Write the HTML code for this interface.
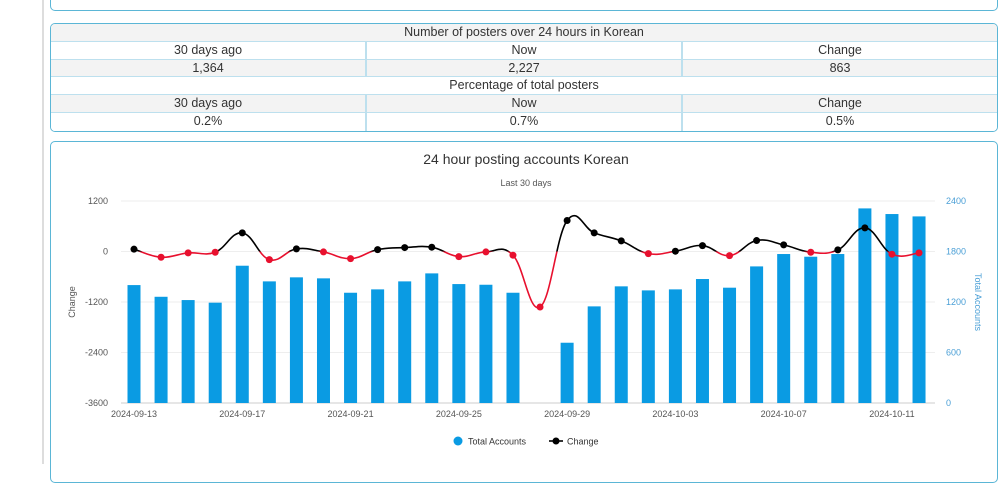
<!DOCTYPE html>
<html><head><meta charset="utf-8"><style>
body{margin:0;width:1000px;height:464px;background:#fff;overflow:hidden;font-family:"Liberation Sans",sans-serif;position:relative}
.vline{position:absolute;left:42px;top:0;width:2px;height:464px;background:#ddd}
.topcard{position:absolute;left:50px;top:-10px;width:946px;height:19px;border:1px solid #5bb6d6;border-radius:5px;background:#fff}
.tbl{position:absolute;left:50px;top:23px;width:946px;height:107px;border:1px solid #5bb6d6;border-radius:5px;background:#f5f5f5;overflow:hidden}
.row{display:flex;height:17.8px;border-bottom:1px solid #bde0ee;box-sizing:border-box}
.row:last-child{border-bottom:none}
.c{flex:1;text-align:center;font-size:12.5px;color:#333;line-height:17px;border-right:2px solid #bde0ee}
.c:last-child{border-right:none}
.w{background:#fff}.g{background:#f3f3f3}
.card{position:absolute;left:50px;top:141px;width:946px;height:340px;border:1px solid #5bb6d6;border-radius:5px;background:#fff}
svg{position:absolute;left:0;top:0}
</style></head><body>
<div class="vline"></div>
<div class="topcard"></div>
<div class="tbl">
 <div class="row g"><div class="c">Number of posters over 24 hours in Korean</div></div>
 <div class="row w"><div class="c">30 days ago</div><div class="c">Now</div><div class="c">Change</div></div>
 <div class="row g"><div class="c">1,364</div><div class="c">2,227</div><div class="c">863</div></div>
 <div class="row w"><div class="c">Percentage of total posters</div></div>
 <div class="row g"><div class="c">30 days ago</div><div class="c">Now</div><div class="c">Change</div></div>
 <div class="row w"><div class="c">0.2%</div><div class="c">0.7%</div><div class="c">0.5%</div></div>
</div>
<div class="card"></div>
<svg id="chart" width="1000" height="464"></svg>
<script>
const categories=["2024-09-13","2024-09-14","2024-09-15","2024-09-16","2024-09-17","2024-09-18","2024-09-19","2024-09-20","2024-09-21","2024-09-22","2024-09-23","2024-09-24","2024-09-25","2024-09-26","2024-09-27","2024-09-28","2024-09-29","2024-09-30","2024-10-01","2024-10-02","2024-10-03","2024-10-04","2024-10-05","2024-10-06","2024-10-07","2024-10-08","2024-10-09","2024-10-10","2024-10-11","2024-10-12"];
const totalAccounts=[1401,1262,1223,1192,1631,1445,1493,1481,1310,1350,1445,1540,1413,1405,1310,0,716,1148,1386,1338,1350,1473,1370,1623,1770,1738,1770,2312,2245,2217];
const changeValues=[55,-136,-33,-17,443,-193,62,-10,-169,45,93,102,-121,-10,-88,-1319,736,443,252,-50,7,140,-98,260,157,-17,38,562,-64,-33];
const leftTicks=[1200,0,-1200,-2400,-3600];
const rightTicks=[2400,1800,1200,600,0];
const NS="http://www.w3.org/2000/svg";
const svg=document.getElementById('chart');
const X0=121,STEP=27.07,TOP=201,BOT=403;
const xPos=i=>X0+13+i*STEP;
const yL=v=>TOP+(1200-v)/4800*(BOT-TOP);
const yR=v=>BOT-v/2400*(BOT-TOP);
function mk(t,a,txt){const e=document.createElementNS(NS,t);for(const k in a)e.setAttribute(k,a[k]);if(txt!==undefined)e.textContent=txt;svg.appendChild(e);return e;}
let e;
e=mk('text',{x:526,y:164,'text-anchor':'middle','font-size':14,fill:'#333'},'24 hour posting accounts Korean');


e=mk('text',{x:526,y:186,'text-anchor':'middle','font-size':9,fill:'#555'},'Last 30 days');


leftTicks.forEach(v=>{
 const g=mk('line',{x1:121,x2:935,y1:yL(v),y2:yL(v),stroke:v===-3600?'#ccc':'#eee','stroke-width':1});
 
 
 const t=mk('text',{x:108,y:yL(v)+3,'text-anchor':'end','font-size':9,fill:'#555'},v);
 
 
});
rightTicks.forEach(v=>{
 const t=mk('text',{x:946,y:yR(v)+3,'font-size':9,fill:'#4a9fd6'},v);
 
 
});
e=mk('text',{x:75,y:302,'text-anchor':'middle','font-size':9,fill:'#555',transform:'rotate(-90 75 302)'},'Change');


e=mk('text',{x:975,y:302,'text-anchor':'middle','font-size':9,fill:'#4a9fd6',transform:'rotate(90 975 302)'},'Total Accounts');


categories.forEach((c,i)=>{
 if(i%4===0){const t=mk('text',{x:xPos(i),y:417,'text-anchor':'middle','font-size':9,fill:'#555'},c);
 
 }
});
totalAccounts.forEach((v,i)=>{
 if(v<=0)return;
 const b=mk('rect',{x:xPos(i)-6.5,y:yR(v),width:13,height:BOT-yR(v),fill:'#0a9be3'});
 
 
});
// smooth line
const pts=changeValues.map((v,i)=>[xPos(i),yL(v)]);
let d='M'+pts[0][0]+','+pts[0][1];
for(let i=0;i<pts.length-1;i++){
 const p0=pts[Math.max(0,i-1)],p1=pts[i],p2=pts[i+1],p3=pts[Math.min(pts.length-1,i+2)];
 const s=0.2;
 d+=` C${p1[0]+(p2[0]-p0[0])*s},${p1[1]+(p2[1]-p0[1])*s} ${p2[0]-(p3[0]-p1[0])*s},${p2[1]-(p3[1]-p1[1])*s} ${p2[0]},${p2[1]}`;
}
const defs=mk('defs',{});
const y0=yL(0);
defs.innerHTML=`<clipPath id="above"><rect x="0" y="0" width="1000" height="${y0}"/></clipPath><clipPath id="below"><rect x="0" y="${y0}" width="1000" height="464"/></clipPath>`;
e=mk('path',{d:d,fill:'none',stroke:'#000','stroke-width':1.6,'clip-path':'url(#above)'});


e=mk('path',{d:d,fill:'none',stroke:'#e8102e','stroke-width':1.6,'clip-path':'url(#below)'});


changeValues.forEach((v,i)=>{
 const c=mk('circle',{cx:xPos(i),cy:yL(v),r:3.5,fill:v>=0?'#000':'#e8102e'});
 
 
});
// legend
e=mk('circle',{cx:458,cy:441,r:4.5,fill:'#0a9be3'});


e=mk('text',{x:468,y:444.5,'font-size':9,fill:'#333'},'Total Accounts');


e=mk('line',{x1:549,x2:563,y1:441,y2:441,stroke:'#000','stroke-width':1.6});


e=mk('circle',{cx:556,cy:441,r:3.5,fill:'#000'});


e=mk('text',{x:567,y:444.5,'font-size':9,fill:'#333'},'Change');


</script>
</body></html>
